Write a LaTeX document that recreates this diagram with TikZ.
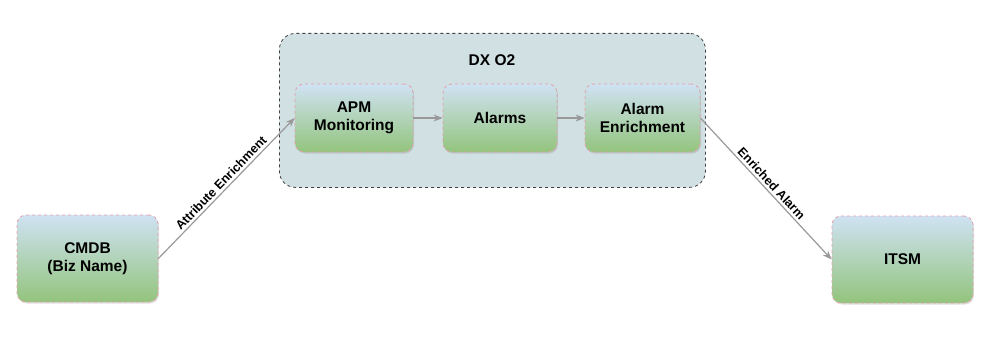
\documentclass[tikz,border=0pt]{standalone}
\usepackage{fontspec}
\setmainfont{Liberation Sans}
\usetikzlibrary{arrows.meta,shadows}
\definecolor{contfill}{HTML}{D0E0E3}
\definecolor{topblue}{HTML}{CFE2F3}
\definecolor{botgreen}{HTML}{93C47D}
\definecolor{pinkedge}{HTML}{E6A0A8}
\definecolor{arrowgray}{HTML}{999999}
\tikzset{
  box/.style={draw=pinkedge, dashed, line width=0.8pt, rounded corners=9pt,
    top color=topblue, bottom color=botgreen, align=center,
    font=\fontsize{15.5}{18}\selectfont\bfseries,
    drop shadow={opacity=0.25, shadow xshift=1pt, shadow yshift=-1.5pt}},
  container/.style={draw=black!75, dashed, line width=0.8pt, rounded corners=16pt, fill=contfill},
  flow/.style={draw=arrowgray, line width=1.2pt, -{Stealth[length=9pt,width=7pt]}},
  lbl/.style={font=\fontsize{12.5}{14}\selectfont\bfseries, sloped, above, midway, inner sep=2.5pt}
}
\begin{document}
\begin{tikzpicture}[x=1pt,y=-1pt]
\useasboundingbox (0,0) rectangle (1006,345);
\node[container, minimum width=426pt, minimum height=154pt, anchor=north west] (dx) at (279,33) {};
\node[font=\fontsize{15.5}{18}\selectfont\bfseries] (dxt) at (492,60) {DX O2};
\node[box, minimum width=118pt, minimum height=68pt] (apm) at (354,118) {APM\\Monitoring};
\node[box, minimum width=114pt, minimum height=68pt] (alarms) at (500,118) {Alarms};
\node[box, minimum width=115pt, minimum height=68pt] (enr) at (642.5,118) {Alarm\\Enrichment};
\node[box, minimum width=141pt, minimum height=87pt] (cmdb) at (87.5,258.5) {CMDB\\(Biz Name)};
\node[box, minimum width=141pt, minimum height=87pt] (itsm) at (902.5,259.5) {ITSM};
\draw[flow] (apm.east) -- (alarms.west);
\draw[flow] (alarms.east) -- (enr.west);
\draw[flow] (cmdb.east) -- node[lbl] {Attribute Enrichment} (apm.west);
\draw[flow] (enr.east) -- node[lbl] {Enriched Alarm} (itsm.west);
\end{tikzpicture}
\end{document}
